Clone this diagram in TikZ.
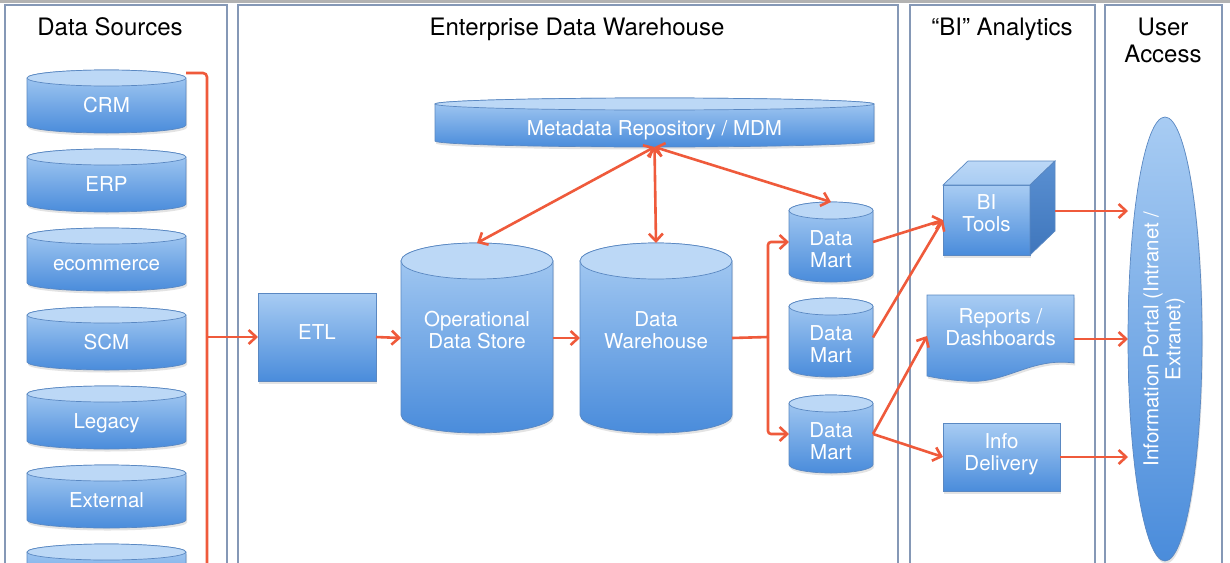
\documentclass[tikz,border=0pt]{standalone}
\usepackage{fontspec}
\setmainfont{TeX Gyre Heros}
\usetikzlibrary{arrows.meta,shadows,calc,shapes.geometric}
\pgfdeclarelayer{bg}
\pgfsetlayers{bg,main}
\definecolor{cTop}{HTML}{A8CCF3}
\definecolor{cBot}{HTML}{4A8CDB}
\definecolor{cCap}{HTML}{BCD8F6}
\definecolor{cEdge}{HTML}{5A88C2}
\definecolor{cRed}{HTML}{EF5A3B}
\definecolor{cPanel}{HTML}{8598B6}
\definecolor{cSideA}{HTML}{5A90D2}
\definecolor{cSideB}{HTML}{3F76BC}
\tikzset{
  panel/.style={draw=cPanel, line width=1.3pt},
  header/.style={font=\fontsize{24}{27}\selectfont, text=black, align=center, inner sep=0pt},
  intext/.style={font=\fontsize{20.5}{22}\selectfont, text=white, align=center},
  cylbox/.style={intext, inner sep=0pt, outer sep=0pt},
  softshadow/.style={drop shadow={opacity=0.22, shadow xshift=1pt, shadow yshift=-2.5pt}},
  cylbody/.style={draw=cEdge, line width=0.7pt, top color=cTop, bottom color=cBot, softshadow},
  cylcap/.style={draw=cEdge, line width=0.7pt, fill=cCap},
  boxnode/.style={intext, draw=cEdge, line width=0.7pt, top color=cTop, bottom color=cBot, inner sep=0pt, outer sep=0pt, softshadow},
  bus/.style={draw=cRed, line width=2.6pt},
  flow/.style={bus, -{Straight Barb[length=7.5pt,width=14pt]}},
  twoway/.style={bus, {Straight Barb[length=7.5pt,width=14pt]}-{Straight Barb[length=7.5pt,width=14pt]}},
}
\newcommand{\liftby}[2]{\raisebox{#1pt}[\height][\depth]{\begin{tabular}{@{}c@{}}#2\end{tabular}}}
% name, cx, cy (pixels, downwards), width, height, cap radius, text raise, text
\newcommand{\dbcyl}[8]{%
  \node[cylbox, minimum width=#4pt, minimum height=#5pt] (#1) at (#2,-#3) {\liftby{#7}{#8}};
  \begin{pgfonlayer}{bg}
    \path[cylbody] ([yshift=-#6pt]#1.north west) -- ([yshift=#6pt]#1.south west)
      arc[start angle=180, end angle=360, x radius=#4pt/2, y radius=#6pt]
      -- ([yshift=-#6pt]#1.north east)
      arc[start angle=0, end angle=180, x radius=#4pt/2, y radius=#6pt] -- cycle;
    \path[cylcap] ([yshift=-#6pt]#1.north) ellipse[x radius=#4pt/2, y radius=#6pt];
  \end{pgfonlayer}
}
\begin{document}
\begin{tikzpicture}[x=1pt, y=1pt]
\useasboundingbox (0,0) rectangle (1230,-562);
\begin{pgfonlayer}{bg}
  \fill[white] (0,0) rectangle (1230,-562);
  \fill[black!30] (0,0) rectangle (1230,-2.5);
  \draw[panel] (5,-575) rectangle (227,-5);
  \draw[panel] (238,-575) rectangle (898,-5);
  \draw[panel] (910,-575) rectangle (1095,-5);
  \draw[panel] (1105,-575) rectangle (1222,-5);
\end{pgfonlayer}

% headers
\node[header, anchor=base] (hds) at (110,-35) {Data Sources};
\node[header, anchor=base] (hedw) at (577,-35) {Enterprise Data Warehouse};
\node[header, anchor=base] (hbi) at (1002,-35) {“BI” Analytics};
\node[header] (hua) at (1163,-40.5) {User\\Access};

% data sources
\dbcyl{crm}{106.5}{101.5}{159}{63}{8}{-6.5}{CRM}
\dbcyl{erp}{106.5}{180.5}{159}{63}{8}{-6.5}{ERP}
\dbcyl{ecom}{106.5}{259.5}{159}{63}{8}{-6.5}{ecommerce}
\dbcyl{scm}{106.5}{338.5}{159}{63}{8}{-6.5}{SCM}
\dbcyl{leg}{106.5}{417.5}{159}{63}{8}{-6.5}{Legacy}
\dbcyl{ext}{106.5}{496.5}{159}{63}{8}{-6.5}{External}
\dbcyl{more}{106.5}{575.5}{159}{63}{8}{-6.5}{}

% enterprise data warehouse
\node[boxnode, minimum width=118pt, minimum height=88pt] (etl) at (317,-337) {\liftby{2}{ETL}};
\dbcyl{meta}{654.5}{122.5}{439}{49}{6}{-9}{Metadata Repository / MDM}
\dbcyl{ods}{477}{338}{152}{190}{18}{5}{Operational\\Data Store}
\dbcyl{dw}{656}{338}{152}{190}{18}{5}{Data\\Warehouse}
\dbcyl{dma}{831}{242}{84}{80}{8.5}{-10}{Data\\Mart}
\dbcyl{dmb}{831}{337.5}{84}{79}{8.5}{-10}{Data\\Mart}
\dbcyl{dmc}{831}{434}{84}{78}{8.5}{-10}{Data\\Mart}

% BI analytics
\node[boxnode, minimum width=87pt, minimum height=70pt] (bi) at (986.5,-220) {\liftby{4}{BI\\Tools}};
\path[draw=cEdge, line width=0.7pt, top color=cCap, bottom color=cTop]
  (bi.north west) -- ++(25,24) -- ++(87,0) -- (bi.north east) -- cycle;
\path[draw=cEdge, line width=0.7pt, top color=cSideA, bottom color=cSideB]
  (bi.north east) -- ++(25,24) -- ++(0,-70) -- (bi.south east) -- cycle;

\node[intext, inner sep=0pt, outer sep=0pt, minimum width=147pt, minimum height=82pt] (rep) at (1000.5,-336)
  {\liftby{5.5}{Reports /\\Dashboards}};
\begin{pgfonlayer}{bg}
  \path[cylbody] (rep.north west) -- (rep.north east) -- ([yshift=14pt]rep.south east)
    .. controls (1030,-357) and (1005,-385) .. (965,-381)
    .. controls (948,-380) and (936,-378) .. ([yshift=1pt]rep.south west) -- cycle;
\end{pgfonlayer}

\node[boxnode, minimum width=117pt, minimum height=68pt] (info) at (1001.5,-457) {\liftby{1.5}{Info\\Delivery}};

% user access
\node[intext, ellipse, draw=cEdge, line width=0.7pt, top color=cTop, bottom color=cBot,
      inner sep=0pt, outer sep=0pt, minimum width=74pt, minimum height=444pt, softshadow] (portal) at (1165,-339)
  {\rotatebox{90}{\begin{tabular}{@{}c@{}}Information Portal (Intranet /\\Extranet)\end{tabular}}};

% connectors
\coordinate (busend) at (207,-575);
\coordinate (busjoin) at (207,-337);
\coordinate (split) at (768,-337);
\draw[bus, rounded corners=4pt] ([yshift=-3pt]crm.north east) -| (busend);
\draw[flow] (busjoin) -- (etl.west);
\draw[flow] (etl.east) -- (ods.west);
\draw[flow] (ods.east) -- (dw.west);
\draw[bus] (dw.east) -- (split);
\draw[flow, rounded corners=3pt] (split) |- (dma.west);
\draw[flow, rounded corners=3pt] (split) |- (dmc.west);
\draw[twoway] (meta.south) -- (ods.north);
\draw[twoway] (meta.south) -- (dw.north);
\draw[twoway] (meta.south) -- (dma.north);
\draw[flow] (dma.east) -- (bi.west);
\draw[flow] (dmb.east) -- (bi.west);
\draw[flow] (dmc.east) -- (rep.west);
\draw[flow] (dmc.east) -- (info.west);
\draw[flow] ([xshift=25pt,yshift=9pt]bi.east) -- ([yshift=9pt]bi.east -| portal.west);
\draw[flow] ([yshift=-3pt]rep.east) -- ([yshift=-3pt]rep.east -| portal.west);
\draw[flow] (info.east) -- (info.east -| portal.west);
\end{tikzpicture}
\end{document}
